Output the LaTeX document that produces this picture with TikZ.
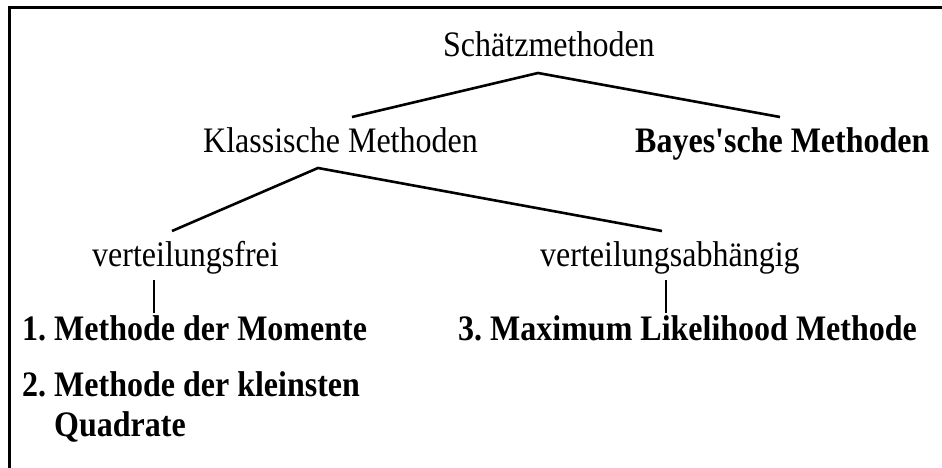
\documentclass[tikz,border=0pt]{standalone}
\usepackage{graphicx}
\usepackage{fontspec}
\setmainfont{Liberation Serif}
\newcommand{\tallt}[1]{\scalebox{1}[1.12]{#1}}
\begin{document}
\frenchspacing
\begin{tikzpicture}[x=1pt,y=-1pt,
  lbl/.style={anchor=base west,inner sep=0pt,font=\fontsize{32}{38}\selectfont},
  blbl/.style={lbl,font=\fontsize{32}{38}\selectfont\bfseries},
  conn/.style={line width=2.6pt,line cap=butt},
  frame/.style={line width=3pt}]
\useasboundingbox (0,0) rectangle (942,468);
\draw[frame] (9,468) -- (9,8) -- (942,8);
% texts
\node[lbl] (s) at (443,57) {\tallt{Schätzmethoden}};
\node[lbl] (k) at (203,153) {\tallt{Klassische Methoden}};
\node[blbl] (b) at (635,153) {\tallt{Bayes\textquotesingle sche Methoden}};
\node[lbl] (vf) at (92,266) {\tallt{verteilungsfrei}};
\node[lbl] (va) at (540,266) {\tallt{verteilungsabhängig}};
\node[blbl] (m1) at (22,340) {\tallt{1. Methode der Momente}};
\node[blbl] (m3) at (458,340) {\tallt{3. Maximum Likelihood Methode}};
\node[blbl] (m2) at (22,396) {\tallt{2. Methode der kleinsten}};
\node[blbl] (m2b) at (54,436) {\tallt{Quadrate}};
% connector points
\coordinate (sApex) at (538,73);
\coordinate (kTop) at (352,117);
\coordinate (bTop) at (780,117);
\coordinate (kApex) at (318,168);
\coordinate (vfTop) at (172,231);
\coordinate (vaTop) at (662,231);
\coordinate (vfBot) at (154,280);
\coordinate (m1Top) at (154,313);
\coordinate (vaBot) at (666,280);
\coordinate (m3Top) at (666,313);
\draw[conn] (kTop) -- (sApex) -- (bTop);
\draw[conn] (vfTop) -- (kApex) -- (vaTop);
\draw[conn] (vfBot) -- (m1Top);
\draw[conn] (vaBot) -- (m3Top);
\end{tikzpicture}
\end{document}
